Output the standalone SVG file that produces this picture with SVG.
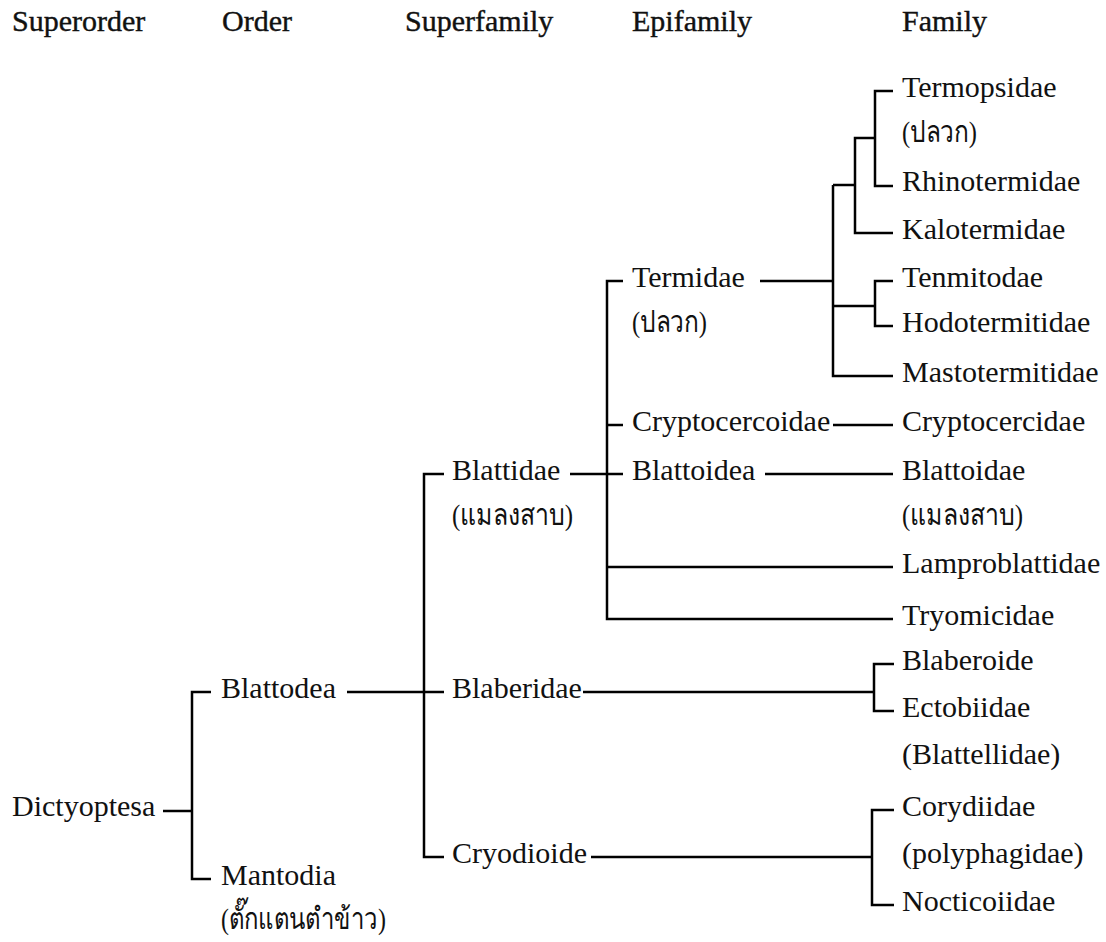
<svg xmlns="http://www.w3.org/2000/svg" width="1106" height="942" viewBox="0 0 1106 942">
<style>
.t text{font-size:30px;fill:#111}
.h text{stroke:#111;stroke-width:0.4px}
.c path{fill:none;stroke:#000;stroke-width:2.5;stroke-linejoin:miter;stroke-linecap:butt}
</style>
<rect width="1106" height="942" fill="#fff"/>
<g id="headers" class="t h" font-family="Liberation Serif, DejaVu Serif, serif">
<text x="12" y="31">Superorder</text>
<text x="222" y="31">Order</text>
<text x="405" y="31">Superfamily</text>
<text x="632" y="31">Epifamily</text>
<text x="902" y="31">Family</text>
</g>
<g id="connectors" class="c">
<path d="M163,811H192"/>
<path d="M211,692H192V879H211"/>
<path d="M347,692H444"/>
<path d="M444,474H424V857H444"/>
<path d="M570,474H623"/>
<path d="M623,281H607V619H893"/>
<path d="M607,425H623"/>
<path d="M607,567H893"/>
<path d="M833,425H893"/>
<path d="M765,474H893"/>
<path d="M760,281H833"/>
<path d="M893,91H875V186H893"/>
<path d="M875,138H855V233H893"/>
<path d="M855,185H833"/>
<path d="M833,185V376H893"/>
<path d="M893,281H875V326H893"/>
<path d="M875,306H833"/>
<path d="M583,692H874"/>
<path d="M894,664H874V711H894"/>
<path d="M591,857H872"/>
<path d="M894,810H872V905H894"/>
</g>
<g class="t" font-family="Liberation Serif, DejaVu Serif, serif">
<g id="n-dictyoptesa"><text x="12" y="816">Dictyoptesa</text></g>
<g id="n-blattodea"><text x="221" y="697.5">Blattodea</text></g>
<g id="n-mantodia"><text x="221" y="884.5">Mantodia</text><text x="221" y="929" textLength="165" lengthAdjust="spacingAndGlyphs">(ตั๊กแตนตำข้าว)</text></g>
<g id="n-blattidae"><text x="452" y="480">Blattidae</text><text x="452" y="525" textLength="121" lengthAdjust="spacingAndGlyphs">(แมลงสาบ)</text></g>
<g id="n-blaberidae"><text x="452" y="697.5">Blaberidae</text></g>
<g id="n-cryodioide"><text x="452" y="863">Cryodioide</text></g>
<g id="n-termidae"><text x="632" y="287">Termidae</text><text x="632" y="332" textLength="75" lengthAdjust="spacingAndGlyphs">(ปลวก)</text></g>
<g id="n-cryptocercoidae"><text x="632" y="430.5">Cryptocercoidae</text></g>
<g id="n-blattoidea"><text x="632" y="479.5">Blattoidea</text></g>
<g id="n-termopsidae"><text x="902" y="96.5">Termopsidae</text><text x="902" y="142" textLength="75" lengthAdjust="spacingAndGlyphs">(ปลวก)</text></g>
<g id="n-rhinotermidae"><text x="902" y="191">Rhinotermidae</text></g>
<g id="n-kalotermidae"><text x="902" y="238.5">Kalotermidae</text></g>
<g id="n-tenmitodae"><text x="902" y="286.5">Tenmitodae</text></g>
<g id="n-hodotermitidae"><text x="902" y="331.5">Hodotermitidae</text></g>
<g id="n-mastotermitidae"><text x="902" y="381.5">Mastotermitidae</text></g>
<g id="n-cryptocercidae"><text x="902" y="430.5">Cryptocercidae</text></g>
<g id="n-blattoidae"><text x="902" y="479.5">Blattoidae</text><text x="902" y="525" textLength="121" lengthAdjust="spacingAndGlyphs">(แมลงสาบ)</text></g>
<g id="n-lamproblattidae"><text x="902" y="572.5">Lamproblattidae</text></g>
<g id="n-tryomicidae"><text x="902" y="625">Tryomicidae</text></g>
<g id="n-blaberoide"><text x="902" y="669.5">Blaberoide</text></g>
<g id="n-ectobiidae"><text x="902" y="717">Ectobiidae</text><text x="902" y="764">(Blattellidae)</text></g>
<g id="n-corydiidae"><text x="902" y="815.5">Corydiidae</text><text x="902" y="863">(polyphagidae)</text></g>
<g id="n-nocticoiidae"><text x="902" y="910.5">Nocticoiidae</text></g>
</g>
</svg>
